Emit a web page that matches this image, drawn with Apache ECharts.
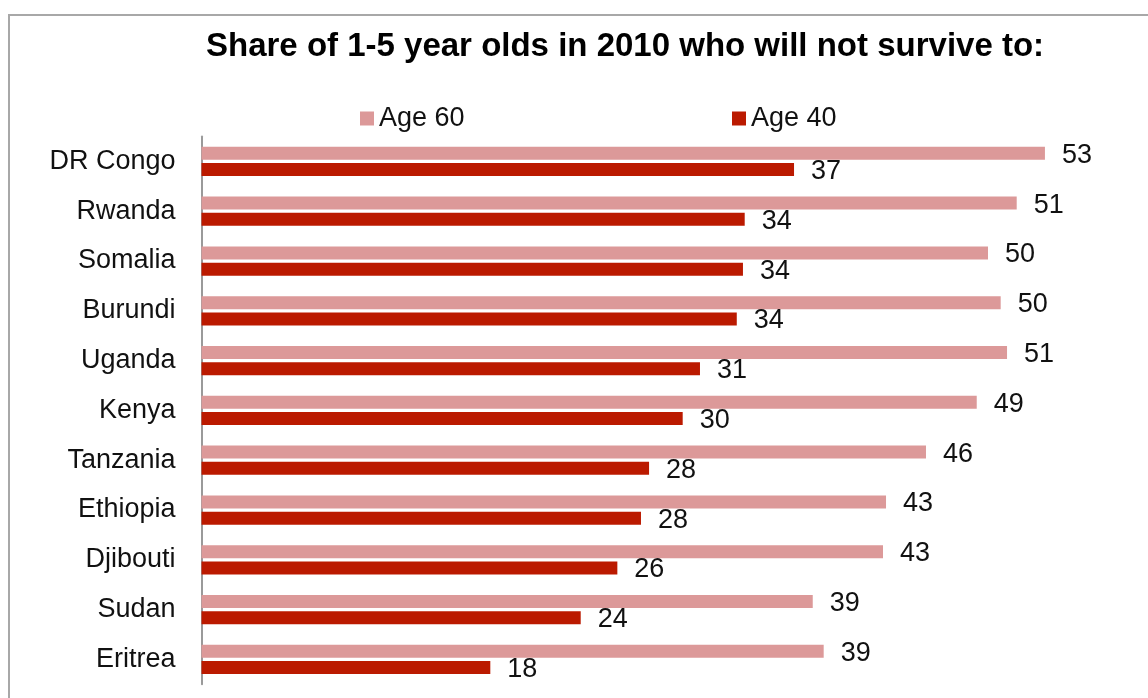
<!DOCTYPE html>
<html>
<head>
<meta charset="utf-8">
<script src="https://cdn.jsdelivr.net/npm/echarts@6/dist/echarts.min.js"></script>
<style>
html,body{margin:0;padding:0;background:#fff;}
#chart{width:1148px;height:698px;}
</style>
</head>
<body>
<div id="chart"></div>
<script>
const categories = ['DR Congo','Rwanda','Somalia','Burundi','Uganda','Kenya','Tanzania','Ethiopia','Djibouti','Sudan','Eritrea'];
const age60 = [53.18, 51.40, 49.59, 50.39, 50.79, 48.88, 45.68, 43.16, 42.97, 38.54, 39.23];
const age40 = [37.36, 34.25, 34.14, 33.75, 31.43, 30.34, 28.22, 27.71, 26.22, 23.91, 18.21];
const seriesNames = ['Age 60', 'Age 40'];
const titleText = 'Share of 1-5 year olds in 2010 who will not survive to:';

const FONT = 'Liberation Sans, Arial, sans-serif';
const chart = echarts.init(document.getElementById('chart'));
const labelCfg = {
  show: true, position: 'right', distance: 17, offset: [0, 2],
  color: '#111', fontSize: 27, fontFamily: FONT,
  formatter: p => Math.round(p.value)
};
chart.setOption({
  animation: false,
  backgroundColor: '#fff',
  title: {
    text: titleText, left: 201, top: 25,
    textStyle: { fontSize: 33, fontWeight: 'bold', color: '#000', fontFamily: FONT }
  },
  graphic: [{
    type: 'rect', shape: { x: 9, y: 15, width: 1300, height: 900 },
    style: { fill: 'none', stroke: '#a8a8a8', lineWidth: 2 }, silent: true
  }],
  legend: [
    { data: [seriesNames[0]], left: 355, top: 100, itemWidth: 14, itemHeight: 14, icon: 'rect',
      textStyle: { fontSize: 27, color: '#111', fontFamily: FONT } },
    { data: [seriesNames[1]], left: 727, top: 100, itemWidth: 14, itemHeight: 14, icon: 'rect',
      textStyle: { fontSize: 27, color: '#111', fontFamily: FONT } }
  ],
  grid: { left: 201.5, right: 74.2, top: 136.5, bottom: 13.7, containLabel: false },
  xAxis: { type: 'value', min: 0, max: 55, show: false },
  yAxis: {
    type: 'category', data: categories, inverse: true,
    axisLine: { show: true, lineStyle: { color: '#9a9a9a', width: 2 } },
    axisTick: { show: false },
    axisLabel: { margin: 26, fontSize: 27, color: '#111', fontFamily: FONT }
  },
  series: [
    { name: seriesNames[0], type: 'bar', data: age60, barWidth: 13, barGap: '25%',
      itemStyle: { color: '#dc9999' }, label: labelCfg },
    { name: seriesNames[1], type: 'bar', data: age40, barWidth: 13, barGap: '25%',
      itemStyle: { color: '#bb1a00' }, label: labelCfg }
  ]
});
</script>
</body>
</html>
